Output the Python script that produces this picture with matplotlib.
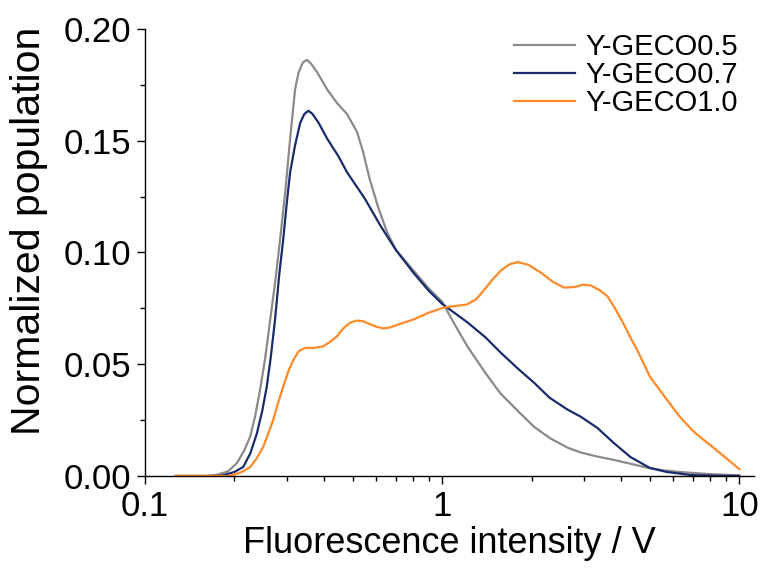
import matplotlib
matplotlib.use("Agg")
import matplotlib.pyplot as plt
import matplotlib.ticker as mticker

plt.rcParams["font.family"] = ["Liberation Sans", "DejaVu Sans"]

# Y-GECO0.5 (gray), values
x_05 = [0.127, 0.16, 0.174, 0.19, 0.204, 0.215, 0.226, 0.235, 0.244, 0.254, 0.264,
        0.275, 0.285, 0.297, 0.308, 0.320, 0.329, 0.340, 0.351, 0.362, 0.380, 0.41,
        0.442, 0.478, 0.517, 0.542, 0.57, 0.61, 0.653, 0.70, 0.80, 0.9, 1.0, 1.1,
        1.216, 1.4, 1.57, 1.8, 2.04, 2.3, 2.65, 2.93, 3.3, 3.78, 4.3, 4.9, 5.5,
        6.3, 8.0, 10.0]
y_05 = [0.0, 0.0, 0.0005, 0.002, 0.0058, 0.011, 0.0176, 0.027, 0.0386, 0.053, 0.070,
        0.088, 0.106, 0.128, 0.151, 0.173, 0.1806, 0.185, 0.1862, 0.1845, 0.1806, 0.173,
        0.167, 0.162, 0.154, 0.145, 0.133, 0.120, 0.109, 0.101, 0.092, 0.084, 0.078, 0.068,
        0.058, 0.046, 0.037, 0.029, 0.022, 0.017, 0.0126, 0.0105, 0.0088, 0.0072, 0.0055, 0.0037, 0.0026,
        0.0018, 0.0008, 0.0003]

# Y-GECO0.7 (navy)
x_07 = [0.127, 0.175, 0.183, 0.20, 0.214, 0.226, 0.238, 0.248, 0.257, 0.265, 0.274,
        0.283, 0.292, 0.300, 0.308, 0.320, 0.333, 0.344, 0.355, 0.366, 0.384, 0.41,
        0.448, 0.478, 0.55, 0.62, 0.70, 0.80, 0.9, 1.0, 1.1, 1.22, 1.4, 1.58, 1.8,
        2.04, 2.3, 2.65, 2.93, 3.33, 3.78, 4.3, 5.0, 5.7, 6.9, 8.5, 10.0]
y_07 = [0.0, 0.0, 0.0003, 0.0018, 0.004, 0.010, 0.019, 0.029, 0.040, 0.053, 0.070,
        0.090, 0.106, 0.122, 0.136, 0.148, 0.158, 0.162, 0.1634, 0.162, 0.158, 0.151,
        0.143, 0.136, 0.124, 0.112, 0.101, 0.091, 0.083, 0.077, 0.073, 0.0686, 0.062, 0.055, 0.048,
        0.0417, 0.035, 0.0296, 0.0265, 0.0215, 0.0148, 0.0085, 0.0036, 0.0018, 0.0004, 0.0001, 0.0]

# Y-GECO1.0 (orange)
x_10 = [0.127, 0.19, 0.198, 0.212, 0.226, 0.238, 0.25, 0.26, 0.27, 0.281, 0.292,
        0.304, 0.316, 0.33, 0.346, 0.37, 0.398, 0.42, 0.443, 0.465, 0.49, 0.515,
        0.54, 0.57, 0.60, 0.635, 0.67, 0.72, 0.80, 0.9, 1.01, 1.1, 1.21, 1.3, 1.38,
        1.48, 1.58, 1.69, 1.8, 1.95, 2.15, 2.35, 2.57, 2.78, 2.98, 3.17, 3.4, 3.6,
        3.8, 4.06, 4.3, 4.53, 5.0, 5.6, 6.3, 7.0, 7.6, 8.3, 8.9, 10.0]
y_10 = [0.0, 0.0, 0.0005, 0.0018, 0.004, 0.008, 0.013, 0.019, 0.025, 0.033, 0.040,
        0.047, 0.052, 0.056, 0.0573, 0.0573, 0.058, 0.060, 0.0625, 0.066, 0.0686, 0.0695,
        0.0693, 0.068, 0.0668, 0.066, 0.0665, 0.068, 0.070, 0.073, 0.0753, 0.076, 0.0767, 0.079, 0.083,
        0.088, 0.092, 0.0948, 0.0957, 0.0945, 0.091, 0.087, 0.0843, 0.0845, 0.0856, 0.0852, 0.083, 0.0804,
        0.0755, 0.0686, 0.062, 0.0565, 0.0445, 0.0356, 0.0266, 0.020, 0.0161, 0.012, 0.0087, 0.0031]

labels = ["Y-GECO0.5", "Y-GECO0.7", "Y-GECO1.0"]
colors = ["#8a8a8a", "#1b2a6b", "#ff8a2a"]

fig = plt.figure(figsize=(7.65, 5.68), dpi=100)
ax = fig.add_axes([0.1895, 0.162, 0.796, 0.787])

for xs, ys, lab, col in zip([x_05, x_07, x_10], [y_05, y_07, y_10], labels, colors):
    ax.plot(xs, ys, color=col, lw=1.6, label=lab, solid_joinstyle="round")

ax.set_xscale("log")
ax.set_xlim(0.1, 11.2)
ax.set_ylim(0, 0.20)
ax.set_yticks([0, 0.05, 0.10, 0.15, 0.20])
ax.yaxis.set_minor_locator(mticker.MultipleLocator(0.025))
ax.yaxis.set_major_formatter(mticker.FormatStrFormatter("%.2f"))
ax.set_xticks([0.1, 1, 10])
ax.set_xticklabels(["0.1", "1", "10"])
ax.xaxis.set_minor_locator(mticker.LogLocator(base=10, subs=range(2, 10)))
ax.xaxis.set_minor_formatter(mticker.NullFormatter())

for s in ["top", "right"]:
    ax.spines[s].set_visible(False)
for s in ["left", "bottom"]:
    ax.spines[s].set_linewidth(1.0)

ax.tick_params(which="major", direction="out", length=6, width=1, labelsize=25, pad=4)
ax.tick_params(which="minor", direction="out", length=3.5, width=1)

ax.set_xlabel("Fluorescence intensity / V", fontsize=26, labelpad=2)
ax.set_ylabel("Normalized population", fontsize=29.5)
ax.yaxis.set_label_coords(-0.16, 0.548)

ax.legend(loc="upper right", bbox_to_anchor=(1.017, 1.05), frameon=False, fontsize=21,
          handlelength=2.1, handletextpad=0.35, labelspacing=0.0)

fig.savefig("out.png", dpi=100)
